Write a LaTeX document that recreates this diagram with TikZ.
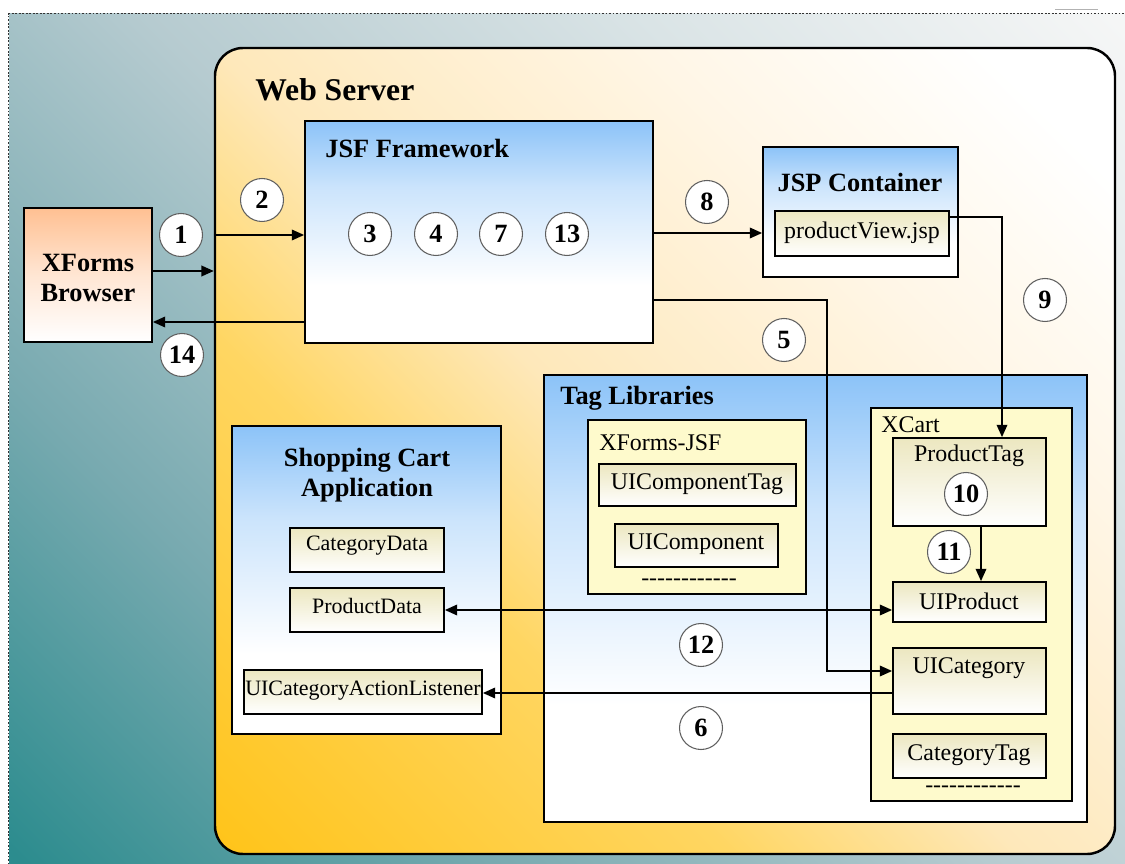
\documentclass[tikz,border=0pt]{standalone}
\usepackage{fontspec}
\setmainfont{Liberation Serif}
\usetikzlibrary{arrows.meta,fit,calc}
\definecolor{jsfblue}{RGB}{140,195,248}
\definecolor{creamtop}{RGB}{236,231,192}
\definecolor{contyellow}{RGB}{254,250,204}
\definecolor{peach}{RGB}{255,192,146}
\definecolor{bgA}{RGB}{44,140,142}
\definecolor{bgB}{RGB}{120,170,176}
\definecolor{bgC}{RGB}{182,203,208}
\definecolor{bgD}{RGB}{218,228,230}
\definecolor{bgE}{RGB}{245,246,246}
\definecolor{wsA}{RGB}{255,196,26}
\definecolor{wsB}{RGB}{255,214,98}
\definecolor{wsC}{RGB}{254,232,186}
\definecolor{wsD}{RGB}{255,246,230}
\definecolor{circline}{RGB}{95,95,95}
\pgfdeclareverticalshading{bluefade}{100bp}{color(0bp)=(white); color(25bp)=(white); color(38bp)=(white); color(60bp)=(jsfblue!45!white); color(75bp)=(jsfblue); color(100bp)=(jsfblue)}
\pgfdeclareverticalshading{bgfade}{100bp}{color(0bp)=(bgA); color(15bp)=(bgA); color(32bp)=(bgB); color(50bp)=(bgC); color(68bp)=(bgD); color(85bp)=(bgE); color(100bp)=(bgE)}
\pgfdeclareverticalshading{wsfade}{100bp}{color(0bp)=(wsA); color(15bp)=(wsA); color(36bp)=(wsB); color(48bp)=(wsC); color(66bp)=(wsD); color(80bp)=(white); color(100bp)=(white)}
\newcommand\hy{\hbox{-}}
\newcommand\dashrow{\hy\hy\hy\hy\hy\hy\hy\hy\hy\hy\hy\hy}
\tikzset{
  box/.style={draw=black, line width=1pt, inner sep=0pt},
  blueshade/.style={box, shading=bluefade},
  cream/.style={box, top color=creamtop, bottom color=white},
  cont/.style={box, fill=contyellow},
  conn/.style={line width=1pt, -{Triangle[length=7pt,width=6pt]}},
  conntwo/.style={line width=1pt, {Triangle[length=7pt,width=6pt]}-{Triangle[length=7pt,width=6pt]}},
  num/.style={circle, draw=circline, line width=0.6pt, fill=white, minimum size=0.86cm, inner sep=0pt, font=\fontsize{15}{15}\selectfont\bfseries},
  ttl/.style={font=\fontsize{15}{17}\selectfont\bfseries, inner sep=0pt},
  lbl/.style={font=\fontsize{13.6}{15}\selectfont, inner sep=0pt},
  slbl/.style={font=\fontsize{12.5}{14}\selectfont, inner sep=0pt}
}
\begin{document}
\begin{tikzpicture}[x=0.02cm,y=-0.02cm]
\useasboundingbox (0,0) rectangle (1125,864);
\fill[white] (0,0) rectangle (1125,864);
% background
\node[inner sep=0pt, fit={(9,14) (1125,864)}, shading=bgfade, shading angle=-45] (bg) {};
\draw[gray!40!black, line width=0.8pt, dash pattern=on 1pt off 1pt] (bg.south west) -- (bg.north west) -- (bg.north east);
\draw[gray!60, line width=0.4pt] (1055,9) -- (1098,9);
% web server
\node[draw=black, line width=1.4pt, inner sep=0pt, rounded corners=0.56cm, fit={(215,48) (1115,854)}, shading=wsfade, shading angle=-45] (ws) {};
\node[font=\fontsize{18}{20}\selectfont\bfseries, inner sep=0pt, anchor=west] (wst) at (255,90) {Web Server};
% browser
\node[box, top color=peach, bottom color=white, middle color=peach!40!white, fit={(24,208) (152,342)}] (browser) {};
\node[ttl, align=center] (browsert) at (88,278) {XForms\\Browser};
% JSF
\node[blueshade, fit={(305,121) (653,343)}] (jsf) {};
\node[ttl, anchor=west] (jsft) at (325,148) {JSF Framework};
% JSP
\node[blueshade, fit={(763,147) (958,277)}] (jsp) {};
\node[ttl] (jspt) at (860,182) {JSP Container};
\node[cream, fit={(775,211) (949,256)}] (pv) {};
\node[lbl] (pvt) at (862,233) {productView.jsp};
% Tag libraries
\node[blueshade, fit={(544,375) (1087,822)}] (tag) {};
\node[ttl, anchor=west] (tagt) at (560,398) {Tag Libraries};
\node[cont, fit={(588,420) (806,594)}] (xjsf) {};
\node[lbl, anchor=west] (xjsft) at (599,443) {XForms-JSF};
\node[cream, fit={(599,464) (796,506)}] (uict) {};
\node[lbl] (uictt) at (697,484) {UIComponentTag};
\node[cream, fit={(615,524) (778,567)}] (uic) {};
\node[lbl] (uict2) at (696,544) {UIComponent};
\node[lbl] (dash1) at (689,582) {\dashrow};
\node[cont, fit={(871,408) (1072,801)}] (xcart) {};
\node[lbl, anchor=west] (xcartt) at (881,425) {XCart};
\node[cream, fit={(893,438) (1046,526)}] (ptag) {};
\node[lbl] (ptagt) at (969,456) {ProductTag};
\node[cream, fit={(893,582) (1046,622)}] (uiprod) {};
\node[lbl] (uiprodt) at (969,601) {UIProduct};
\node[cream, fit={(893,648) (1046,714)}] (uicat) {};
\node[lbl] (uicatt) at (969,668) {UICategory};
\node[cream, fit={(893,734) (1046,778)}] (ctag) {};
\node[lbl] (ctagt) at (969,755) {CategoryTag};
\node[lbl] (dash2) at (973,789) {\dashrow};
% shopping cart
\node[blueshade, fit={(232,426) (501,734)}] (cart) {};
\node[ttl, align=center] (cartt) at (367,475) {Shopping Cart\\Application};
\node[cream, fit={(290,528) (444,572)}] (cdata) {};
\node[slbl] (cdatat) at (367,546) {CategoryData};
\node[cream, fit={(290,588) (444,632)}] (pdata) {};
\node[slbl] (pdatat) at (367,606) {ProductData};
\node[cream, fit={(244,670) (482,714)}] (ucal) {};
\node[slbl] (ucalt) at (363,691) {UICategoryActionListener};
% connectors
\draw[conn] (browser.east |- 0,271) -- (ws.west |- 0,271);
\draw[conn] (ws.west |- 0,235) -- (jsf.west |- 0,235);
\draw[conn] (jsf.west |- 0,322) -- (browser.east |- 0,322);
\draw[conn] (jsf.east |- 0,233) -- (jsp.west |- 0,233);
\draw[conn] (pv.east |- 0,217) -| (ptag.north -| 1002,0);
\draw[conn] (jsf.east |- 0,300) -| (827,671) -- (uicat.west |- 0,671);
\draw[conn] (ptag.south -| 981,0) -- (uiprod.north -| 981,0);
\draw[conntwo] (pdata.east |- 0,610) -- (uiprod.west |- 0,610);
\draw[conn] (uicat.west |- 0,693) -- (ucal.east |- 0,693);
% numbers
\node[num] (n1) at (181,235) {1};
\node[num] (n2) at (262,200) {2};
\node[num] (n14) at (182,355) {14};
\node[num] (n3) at (370,234) {3};
\node[num] (n4) at (436,234) {4};
\node[num] (n7) at (501,234) {7};
\node[num] (n13) at (567,234) {13};
\node[num] (n8) at (707,202) {8};
\node[num] (n5) at (784,340) {5};
\node[num] (n9) at (1045,300) {9};
\node[num] (n10) at (966,494) {10};
\node[num] (n11) at (949,552) {11};
\node[num] (n12) at (701,645) {12};
\node[num] (n6) at (701,728) {6};
\end{tikzpicture}
\end{document}
